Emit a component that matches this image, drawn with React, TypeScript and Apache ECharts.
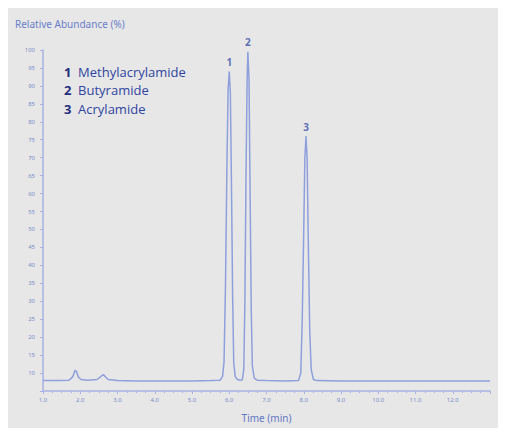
import React, { useEffect, useRef } from "react";
import * as echarts from "echarts";

const times = [
  1.0, 1.4, 1.7, 1.8, 1.86, 1.9, 1.95, 2.02, 2.2, 2.45, 2.55, 2.62, 2.68, 2.75, 3.0, 3.5, 4.0, 4.5, 5.0, 5.5,
  5.75, 5.82, 5.86, 5.9, 5.94, 5.97, 6.0, 6.03, 6.06, 6.09, 6.12, 6.16, 6.22, 6.3,
  6.35, 6.39, 6.42, 6.45, 6.48, 6.5, 6.53, 6.56, 6.59, 6.62, 6.67, 6.75, 7.0, 7.5,
  7.86, 7.92, 7.96, 8.0, 8.03, 8.06, 8.09, 8.12, 8.16, 8.2, 8.26, 8.35, 9.0, 10.0, 11.0, 12.0, 13.0,
];
const abundance = [
  7.9, 7.9, 8.0, 9.0, 10.8, 10.4, 8.9, 8.2, 8.0, 8.2, 9.0, 9.6, 8.9, 8.2, 7.9, 7.8, 7.8, 7.8, 7.8, 7.9,
  8.0, 9.0, 13, 35, 70, 89, 94, 88, 62, 32, 13, 9, 8.2, 8.0,
  8.1, 11, 30, 65, 92, 99.5, 92, 60, 28, 12, 8.6, 8.0, 7.9, 7.8,
  7.9, 10, 25, 50, 70, 76, 70, 48, 22, 11, 8.2, 7.9, 7.8, 7.8, 7.8, 7.8, 7.8,
];
const peakTimes = [6.0, 6.5, 8.06];
const peakLabels = ["1", "2", "3"];
const compounds = ["Methylacrylamide", "Butyramide", "Acrylamide"];
const yTicks = [10, 15, 20, 25, 30, 35, 40, 45, 50, 55, 60, 65, 70, 75, 80, 85, 90, 95, 100];
const xTickLabels = ["1.0", "2.0", "3.0", "4.0", "5.0", "6.0", "7.0", "8.0", "9.0", "10.0", "11.0", "12.0"];

export default function App() {
  const ref = useRef<HTMLDivElement>(null);
  useEffect(() => {
    if (!ref.current) return;
    const chart = echarts.init(ref.current, null, { renderer: "svg" });
    const lineData = times.map((t, i) => [t, abundance[i]]);
    const peakData = peakTimes.map((t, pi) => ({
      value: [t, abundance[times.indexOf(t)]],
      label: { formatter: peakLabels[pi] },
    }));
    const axisColor = "#aab2e2";
    const labelColor = "#7d8cc8";
    chart.setOption({
      animation: false,
      backgroundColor: "#e7e7e7",
      grid: { left: 35, right: 10, top: 42, bottom: 30 },
      xAxis: {
        type: "value",
        min: 1,
        max: 13,
        interval: 1,
        name: "Time (min)",
        nameLocation: "middle",
        nameGap: 22,
        nameTextStyle: { color: "#6276c4", fontSize: 10, fontFamily: "Noto Sans" },
        axisLine: { show: true, lineStyle: { color: axisColor, width: 1.5 } },
        axisTick: { show: true, length: 3, lineStyle: { color: axisColor } },
        minorTick: { show: true, splitNumber: 4, length: 2, lineStyle: { color: axisColor } },
        splitLine: { show: false },
        axisLabel: {
          color: labelColor,
          fontSize: 6,
          margin: 6,
          fontFamily: "Noto Sans",
          formatter: (v: number) => {
            const idx = Math.round(v) - 1;
            return idx >= 0 && idx < xTickLabels.length ? xTickLabels[idx] : "";
          },
        },
      },
      yAxis: {
        type: "value",
        min: 5,
        max: 100,
        interval: 5,
        axisLine: { show: true, lineStyle: { color: axisColor, width: 1.5 } },
        axisTick: { show: true, length: 3, lineStyle: { color: axisColor } },
        splitLine: { show: false },
        axisLabel: {
          color: labelColor,
          fontSize: 6,
          margin: 8,
          fontFamily: "Noto Sans",
          formatter: (v: number) => (yTicks.indexOf(v) >= 0 ? String(v) : ""),
        },
      },
      series: [
        {
          type: "line",
          data: lineData,
          showSymbol: false,
          symbol: "none",
          lineStyle: { color: "#8f9fdc", width: 1.5 },
          z: 3,
        },
        {
          type: "scatter",
          data: peakData,
          symbolSize: 1,
          itemStyle: { color: "rgba(0,0,0,0)" },
          label: {
            show: true,
            position: "top",
            color: "#3a4ea8",
            fontSize: 10,
            fontWeight: "bold",
            distance: 4,
            fontFamily: "Noto Sans",
          },
          z: 4,
        },
      ],
      graphic: [
        {
          type: "text",
          left: 7,
          top: 11,
          style: {
            text: "Relative Abundance (%)",
            fill: "#6a7ec8",
            fontSize: 10,
            fontFamily: "Noto Sans",
          },
        },
        ...compounds.map((c, i) => ({
          type: "text",
          left: 56,
          top: 57 + i * 18.5,
          style: {
            text: `{n|${peakLabels[i]}}  {t|${c}}`,
            rich: {
              n: { fill: "#1f2e7e", fontSize: 13, fontWeight: "bold", fontFamily: "Open Sans" },
              t: { fill: "#2f44a0", fontSize: 13, fontFamily: "Open Sans" },
            },
          },
        })),
      ],
    });
    return () => chart.dispose();
  }, []);
  return <div ref={ref} style={{ width: 492, height: 420 }} />;
}
